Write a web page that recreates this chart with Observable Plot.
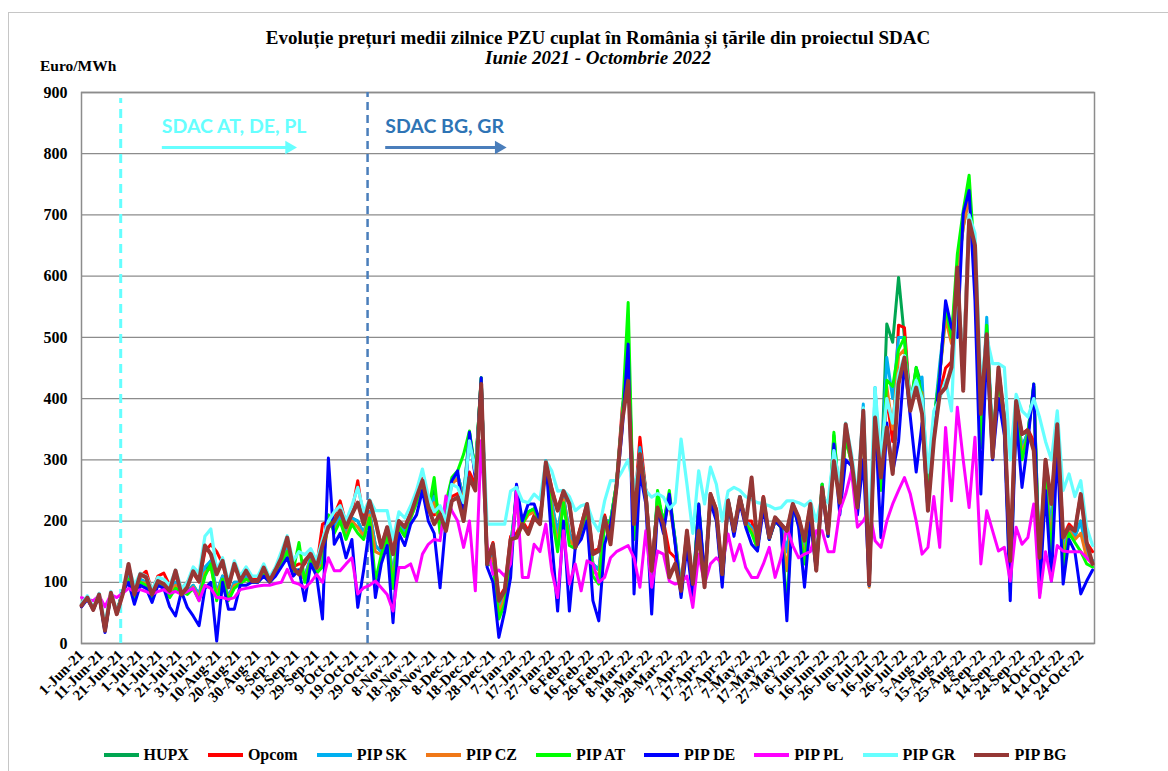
<!DOCTYPE html>
<html><head><meta charset="utf-8">
<script src="https://cdn.jsdelivr.net/npm/d3@7"></script>
<script src="https://cdn.jsdelivr.net/npm/@observablehq/plot@0.6"></script>
<style>
body{margin:0;background:#fff;}
#wrap{position:relative;width:1168px;height:771px;overflow:hidden;font-family:"Liberation Serif","Times New Roman",serif;color:#000;}
#border{position:absolute;left:8px;top:12px;width:1300px;height:900px;border-left:1.5px solid #c6c6c6;border-top:1.5px solid #c6c6c6;}
.ttl{position:absolute;left:0;width:1196px;text-align:center;font-weight:bold;font-size:19px;line-height:21px;}
#unit{position:absolute;left:40px;top:57px;font-weight:bold;font-size:15.5px;}
#chart{position:absolute;left:0;top:0;}
#legend{position:absolute;top:746px;left:0;width:1170px;display:flex;justify-content:center;gap:19px;font-weight:bold;font-size:16px;}
.item{display:flex;align-items:center;gap:5px;}
.sw{width:35px;height:4px;}
</style></head>
<body><div id="wrap">
<div id="border"></div>
<div class="ttl" style="top:27px">Evoluție prețuri medii zilnice PZU cuplat în România și țările din proiectul SDAC</div>
<div class="ttl" style="top:47px;font-style:italic">Iunie 2021 - Octombrie 2022</div>
<div id="unit">Euro/MWh</div>
<div id="chart"></div>
<div id="legend"></div>
</div>
<script>
// daily prices sampled every 3 days from 1-Jun-21 (Euro/MWh)
const BG = [62,75,55,80,21,83,48,80,130,80,
113,108,80,102,97,86,119,80,92,118,
102,160,146,113,135,92,130,102,119,102,
102,124,102,120,140,173,124,113,135,146,
124,160,190,200,217,190,211,230,195,233,
200,157,190,146,200,190,211,239,266,222,
195,211,184,233,239,200,271,250,424,130,
162,70,86,170,173,195,179,206,195,296,
250,217,249,228,157,190,228,146,151,206,
162,255,364,429,195,309,239,119,222,195,
108,130,86,184,97,184,92,244,217,113,
233,184,239,195,271,162,239,173,206,195,
184,228,206,168,228,119,255,180,298,230,
358,298,222,380,97,369,271,353,277,424,
467,380,418,375,217,331,407,418,451,614,
413,691,650,375,505,304,451,364,135,396,
342,348,315,140,300,228,358,173,190,184,
244,165,130];
const GR = [65,78,58,82,30,85,52,82,125,95,
115,110,88,108,105,95,120,90,100,125,
115,175,187,120,140,100,135,110,125,110,
110,130,108,125,150,176,135,150,145,155,
135,170,200,215,225,200,225,255,215,235,
217,217,217,170,215,205,225,250,285,240,
215,225,200,260,255,230,331,280,410,195,
195,195,195,249,255,233,230,244,235,298,
282,249,250,240,217,225,228,200,184,233,
266,266,282,300,250,300,250,239,245,239,
220,230,334,260,180,282,228,288,260,200,
249,255,250,240,235,230,228,225,220,222,
233,233,230,225,233,200,240,230,315,260,
360,310,240,385,170,418,300,400,360,440,
470,400,430,400,280,380,400,430,380,600,
450,700,670,420,500,457,457,451,300,407,
380,370,400,369,330,300,380,250,277,240,
266,190,160];
const DE = [60,72,55,78,18,80,50,85,100,64,
95,90,67,95,90,60,45,85,59,45,
29,90,100,4,100,56,56,95,95,100,
100,110,100,110,125,140,110,120,70,130,
110,40,303,162,180,140,170,59,120,190,
75,130,160,34,180,160,195,210,250,200,
180,91,200,266,282,200,345,270,434,125,
100,10,53,108,260,200,228,228,200,298,
168,53,200,53,157,170,200,70,37,162,
195,250,350,489,81,280,228,48,220,180,
244,162,75,157,75,228,110,230,200,92,
230,175,230,190,162,151,220,170,200,190,
37,228,190,92,200,120,250,175,326,210,
300,290,210,300,95,370,173,360,280,330,
460,370,280,360,217,340,435,560,516,500,
702,740,560,244,480,300,400,340,70,370,
255,330,424,81,250,102,320,97,170,150,
81,102,120];
const PL = [75,72,70,78,60,80,75,82,90,85,
88,85,80,85,88,82,85,80,85,90,
70,95,90,75,75,72,75,88,90,92,
94,95,95,98,100,121,100,97,91,100,
113,100,140,119,119,130,140,81,91,95,
102,91,80,53,124,124,130,102,146,162,
170,168,241,217,200,157,200,86,331,160,
113,120,110,130,249,108,108,162,150,195,
119,75,184,97,130,86,135,130,100,108,
140,150,155,160,140,92,184,92,151,146,
102,97,100,110,59,146,97,130,140,130,
179,135,162,124,108,108,130,157,108,140,
190,160,140,146,150,184,184,150,150,217,
244,282,190,200,220,168,157,200,228,250,
271,244,200,146,157,240,157,353,233,386,
300,222,337,130,217,184,151,157,102,190,
162,173,228,75,150,102,160,151,150,150,
150,140,130];
const HUPX = [62,75,58,80,25,82,50,85,110,75,
105,100,75,100,95,80,100,85,85,95,
80,120,135,80,110,75,100,100,110,100,
102,115,102,115,135,155,120,120,110,140,
120,140,200,190,210,180,205,200,180,215,
160,150,180,110,195,180,210,235,265,220,
250,200,220,265,275,240,345,280,434,130,
150,60,80,160,240,200,215,220,200,298,
230,180,240,180,160,185,220,130,120,200,
200,260,370,480,200,320,250,110,240,200,
230,170,90,180,90,225,100,240,215,110,
235,185,240,200,190,160,235,175,205,195,
150,228,200,150,220,125,260,180,340,230,
340,300,225,380,100,400,270,522,492,598,
500,390,451,420,230,360,440,540,500,600,
680,730,620,350,510,330,440,370,110,390,
320,345,420,120,280,180,350,150,190,175,
200,150,135];
const OPCOM = [60,75,55,80,22,83,48,80,120,85,
110,118,85,110,115,95,110,90,100,115,
100,150,162,150,130,95,125,105,120,105,
105,120,105,120,140,165,125,130,130,150,
125,195,200,210,233,195,215,266,200,230,
200,160,190,150,200,190,215,240,270,225,
210,215,190,240,245,205,280,260,425,135,
165,75,90,175,180,200,185,210,200,296,
255,220,250,230,160,195,228,150,155,210,
170,258,386,440,210,337,250,125,230,200,
150,140,95,185,100,190,95,245,220,115,
235,185,240,200,200,165,240,175,205,195,
185,228,206,170,228,125,255,185,300,235,
358,300,225,385,100,380,280,400,330,520,
516,390,420,380,225,340,410,450,460,598,
450,700,640,380,510,310,451,370,140,396,
342,350,330,145,300,230,358,175,195,185,
245,165,150];
const SK = [62,75,57,80,25,82,50,85,110,75,
105,100,76,100,95,80,100,85,85,95,
80,125,135,85,110,75,100,100,110,100,
102,115,102,115,135,155,120,120,110,140,
120,140,210,190,210,180,205,200,180,215,
160,150,180,110,195,180,210,235,265,220,
240,200,215,265,275,240,340,280,432,130,
150,60,80,160,240,200,215,220,200,298,
230,180,240,180,160,185,220,130,120,200,
200,260,375,490,200,320,250,110,240,200,
240,170,90,180,90,225,100,240,215,110,
235,185,240,200,190,160,235,175,205,195,
150,228,200,150,220,125,260,180,330,230,
340,300,225,391,100,418,270,467,400,500,
500,390,430,435,230,360,456,540,500,610,
690,735,620,350,533,330,440,370,110,390,
320,345,420,120,280,180,350,150,190,175,
200,150,135];
const CZ = [62,74,57,79,22,81,52,85,105,72,
100,98,74,98,93,78,95,85,82,92,
75,115,125,80,105,72,95,98,105,100,
100,112,100,112,130,150,118,115,105,135,
115,130,200,185,200,175,200,190,175,210,
150,145,175,100,190,175,205,230,260,215,
230,190,210,260,270,230,335,275,430,128,
140,50,75,150,230,195,210,215,195,295,
220,160,235,170,155,180,215,120,110,195,
195,255,365,480,190,310,245,100,235,195,
230,165,85,175,85,220,98,235,210,105,
230,180,235,195,185,155,230,170,200,190,
119,225,195,140,215,120,255,175,325,225,
335,295,220,375,92,390,260,420,350,470,
480,385,420,410,225,350,440,530,490,600,
680,730,610,340,510,320,435,360,100,385,
310,340,415,110,270,160,345,140,185,170,
180,140,130];
const AT = [62,74,56,79,20,80,52,85,105,70,
100,95,72,98,92,75,90,85,80,90,
70,110,130,70,105,70,90,98,105,100,
100,112,100,112,130,150,118,165,100,135,
115,125,210,180,200,170,195,180,170,205,
102,145,175,90,190,175,205,230,260,215,
271,180,230,271,282,309,347,280,434,128,
130,40,65,140,250,195,215,220,195,298,
210,150,230,160,155,180,215,110,97,195,
200,260,370,557,170,310,245,90,250,195,
250,165,80,175,80,228,100,240,210,100,
230,180,235,195,180,155,230,170,200,190,
60,225,195,130,215,120,260,175,345,225,
335,295,220,370,95,390,250,430,420,480,
500,385,451,400,225,364,440,550,500,636,
707,765,620,320,520,320,430,360,85,385,
300,340,424,100,265,140,345,125,180,165,
150,130,125];

const xLabels = ["1-Jun-21","11-Jun-21","21-Jun-21","1-Jul-21","11-Jul-21","21-Jul-21","31-Jul-21","10-Aug-21","20-Aug-21","30-Aug-21","9-Sep-21","19-Sep-21","29-Sep-21","9-Oct-21","19-Oct-21","29-Oct-21","8-Nov-21","18-Nov-21","28-Nov-21","8-Dec-21","18-Dec-21","28-Dec-21","7-Jan-22","17-Jan-22","27-Jan-22","6-Feb-22","16-Feb-22","26-Feb-22","8-Mar-22","18-Mar-22","28-Mar-22","7-Apr-22","17-Apr-22","27-Apr-22","7-May-22","17-May-22","27-May-22","6-Jun-22","16-Jun-22","26-Jun-22","6-Jul-22","16-Jul-22","26-Jul-22","5-Aug-22","15-Aug-22","25-Aug-22","4-Sep-22","14-Sep-22","24-Sep-22","4-Oct-22","14-Oct-22","24-Oct-22"];
const yTicks = [0,100,200,300,400,500,600,700,800,900];
const seriesNames = ["HUPX","Opcom","PIP SK","PIP CZ","PIP AT","PIP DE","PIP PL","PIP GR","PIP BG"];
const seriesColors = ["#00a651","#ff0000","#00b0f0","#f07818","#00ff00","#0000ff","#ff00ff","#66ffff","#953735"];
const seriesWidths = [3,3,3,3,3,3,3,3.2,4];
const seriesValues = [HUPX, OPCOM, SK, CZ, AT, DE, PL, GR, BG];
const firstDay = "2021-06-01", lastDay = "2022-10-31", stepDays = 3;
const events = [{date:"2021-06-21", label:"SDAC AT, DE, PL", color:"#66ffff", textColor:"#66ffff", from:"2021-07-12", to:"2021-09-15"},
                {date:"2021-10-25", label:"SDAC BG, GR", color:"#4a7ebb", textColor:"#2e74b5", from:"2021-11-03", to:"2021-12-31"}];

const parse = d3.utcParse("%d-%b-%y");
const start = new Date(firstDay), end = new Date(lastDay);
const dates = BG.map((_, i) => d3.utcDay.offset(start, stepDays * i));
const tickDates = xLabels.map(parse);
const labelOf = new Map(tickDates.map((d, i) => [+d, xLabels[i]]));

const lineMarks = seriesValues.map((vals, k) =>
  Plot.line(vals.map((v, i) => ({d: dates[i], v})), {x: "d", y: "v", stroke: seriesColors[k], strokeWidth: seriesWidths[k], strokeLinejoin: "round"}));

const ev = events.map(e => ({...e, date: new Date(e.date), from: new Date(e.from), to: new Date(e.to)}));

const chart = Plot.plot({
  width: 1168, height: 720,
  marginLeft: 81, marginRight: 74, marginTop: 92, marginBottom: 77,
  style: {fontFamily: "Liberation Serif, Times New Roman, serif", color: "#000", background: "transparent", overflow: "visible"},
  x: {type: "utc", domain: [start, end]},
  y: {domain: [0, 900]},
  marks: [
    Plot.gridY(yTicks, {stroke: "#8c8c8c", strokeOpacity: 1, strokeWidth: 1.3}),
    Plot.frame({stroke: "#8c8c8c", strokeWidth: 1.5}),
    Plot.axisY(yTicks, {tickSize: 0, tickPadding: 14, fontSize: 16, fontWeight: "bold", label: null}),
    Plot.axisX(tickDates, {tickSize: 0, tickPadding: 9, tickRotate: -45, tickFormat: d => labelOf.get(+d), fontSize: 15, fontWeight: "bold", label: null}),
    Plot.ruleX([ev[0]], {x: "date", y1: 0, y2: 890, stroke: d => d.color, strokeWidth: 3, strokeDasharray: "9,6"}),
    Plot.ruleX([ev[1]], {x: "date", y1: 0, y2: 900, stroke: d => d.color, strokeWidth: 2.5, strokeDasharray: "8,5"}),
    ...lineMarks,
    Plot.text(ev, {x: "from", y: () => 844, text: "label", fill: "textColor", textAnchor: "start", fontSize: 19.5, fontWeight: "bold", fontFamily: "Lato, Open Sans, sans-serif"}),
    Plot.link(ev, {x1: "from", x2: "to", y1: () => 810, y2: () => 810, stroke: "color", strokeWidth: 3}),
    Plot.dot(ev, {x: "to", y: () => 810, symbol: "triangle", rotate: 90, r: 5, fill: "color", stroke: "none"})
  ]
});
document.getElementById("chart").appendChild(chart);

const leg = d3.select("#legend");
seriesNames.forEach((n, k) => {
  const it = leg.append("div").attr("class", "item");
  it.append("div").attr("class", "sw").style("background", seriesColors[k]);
  it.append("span").text(n);
});
</script>
</body></html>
